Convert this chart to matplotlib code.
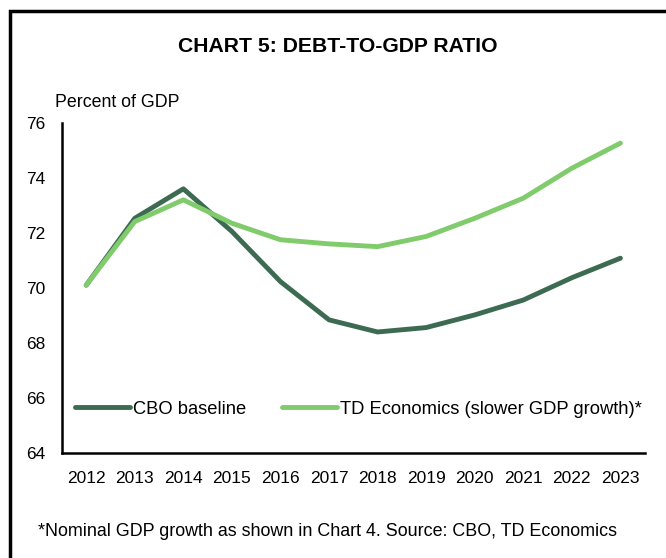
import matplotlib.pyplot as plt
from matplotlib.patches import Rectangle

plt.rcParams['font.family'] = ['Liberation Sans', 'DejaVu Sans']

years = ['2012', '2013', '2014', '2015', '2016', '2017',
         '2018', '2019', '2020', '2021', '2022', '2023']
cbo_baseline = [70.1, 72.53, 73.6, 72.05, 70.23, 68.84,
                68.4, 68.56, 69.02, 69.56, 70.37, 71.08]
td_slower = [70.1, 72.41, 73.2, 72.35, 71.75, 71.6,
             71.5, 71.87, 72.53, 73.26, 74.35, 75.26]

dark_green = '#3c6b52'
light_green = '#80cb6b'

fig = plt.figure(figsize=(6.66, 5.58), dpi=100)
ax = fig.add_axes([0.093, 0.188, 0.875, 0.592])

x = range(len(years))
ax.plot(x, cbo_baseline, color=dark_green, lw=3.5, solid_capstyle='round',
        label='CBO baseline')
ax.plot(x, td_slower, color=light_green, lw=3.5, solid_capstyle='round',
        label='TD Economics (slower GDP growth)*')

ax.set_xlim(-0.5, len(years) - 0.5)
ax.set_ylim(64, 76)
ax.set_yticks(range(64, 77, 2))
ax.set_xticks(list(x))
ax.set_xticklabels(years)
ax.tick_params(length=0, labelsize=12.5)
ax.tick_params(axis='x', pad=13)
ax.tick_params(axis='y', pad=12)
for s in ['top', 'right']:
    ax.spines[s].set_visible(False)
for s in ['left', 'bottom']:
    ax.spines[s].set_linewidth(1.8)
    ax.spines[s].set_color('black')

ax.legend(loc='center left', bbox_to_anchor=(0.022, 0.133), ncol=2, frameon=False,
          fontsize=13.2, handlelength=3.0, handletextpad=0.2, columnspacing=1.9,
          borderpad=0, borderaxespad=0)

fig.text(0.507, 0.917, 'CHART 5: DEBT-TO-GDP RATIO', ha='center', va='center',
         fontsize=15.2, fontweight='bold')
fig.text(0.083, 0.817, 'Percent of GDP', ha='left', va='center', fontsize=12.8)
fig.text(0.057, 0.047, '*Nominal GDP growth as shown in Chart 4. Source: CBO, TD Economics',
         ha='left', va='center', fontsize=12.9)

fig.patches.append(Rectangle((0.015, -0.05), 1.1, 1.03, transform=fig.transFigure,
                             fill=False, edgecolor='black', lw=2.5))

fig.savefig('out.png', dpi=100)
